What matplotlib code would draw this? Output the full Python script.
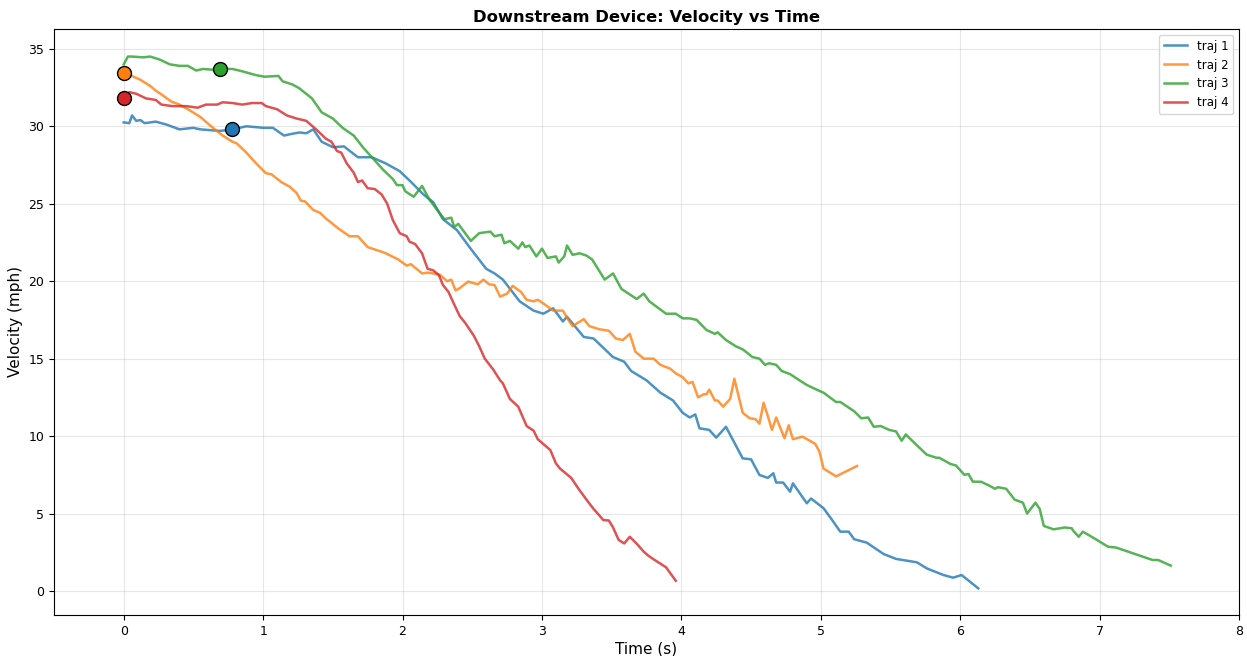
import matplotlib
matplotlib.use("Agg")
import matplotlib.pyplot as plt

# trajectory samples (time in s, velocity in mph)
traj1_t = [0.00, 0.04, 0.06, 0.09, 0.12, 0.15, 0.23, 0.31, 0.40, 0.50, 0.55, 0.69, 0.78, 0.88,
           1.00, 1.07, 1.15, 1.20, 1.26, 1.31, 1.36, 1.42, 1.50, 1.58, 1.68, 1.78, 1.88, 1.98,
           2.05, 2.15, 2.22, 2.29, 2.39, 2.48, 2.60, 2.66, 2.72, 2.84, 2.94, 3.01, 3.08, 3.15,
           3.18, 3.30, 3.37, 3.51, 3.59, 3.64, 3.75, 3.85, 3.94, 4.01, 4.06, 4.10, 4.13, 4.20,
           4.25, 4.32, 4.37, 4.44, 4.50, 4.56, 4.62, 4.66, 4.68, 4.73, 4.78, 4.80, 4.90, 4.93,
           5.02, 5.08, 5.14, 5.20, 5.24, 5.33, 5.45, 5.54, 5.69, 5.76, 5.88, 5.95, 6.01, 6.13]
traj1_v = [30.25, 30.2, 30.7, 30.35, 30.4, 30.2, 30.3, 30.1, 29.8, 29.9, 29.8, 29.7, 29.8, 30.0,
           29.9, 29.9, 29.4, 29.5, 29.6, 29.55, 29.8, 29.0, 28.65, 28.7, 28.0, 28.0, 27.6, 27.1,
           26.5, 25.6, 25.1, 24.0, 23.3, 22.2, 20.8, 20.5, 20.1, 18.7, 18.1, 17.9, 18.25, 17.4,
           17.7, 16.4, 16.3, 15.1, 14.8, 14.2, 13.6, 12.8, 12.3, 11.5, 11.2, 11.4, 10.5, 10.4,
           9.9, 10.6, 9.75, 8.56, 8.5, 7.49, 7.3, 7.6, 7.0, 7.0, 6.41, 6.95, 5.66, 5.97,
           5.34, 4.6, 3.83, 3.83, 3.34, 3.12, 2.39, 2.07, 1.85, 1.46, 1.03, 0.86, 1.03, 0.17]

traj2_t = [0.00, 0.07, 0.12, 0.19, 0.23, 0.28, 0.34, 0.40, 0.47, 0.55, 0.64, 0.71, 0.78, 0.81,
           0.88, 0.95, 1.02, 1.06, 1.13, 1.19, 1.24, 1.27, 1.30, 1.36, 1.41, 1.45, 1.54, 1.62,
           1.68, 1.75, 1.85, 1.88, 1.97, 2.03, 2.06, 2.14, 2.18, 2.22, 2.27, 2.32, 2.35, 2.38,
           2.41, 2.47, 2.54, 2.58, 2.62, 2.66, 2.70, 2.75, 2.79, 2.85, 2.89, 2.94, 2.97, 3.02,
           3.08, 3.15, 3.19, 3.22, 3.30, 3.34, 3.41, 3.48, 3.53, 3.58, 3.63, 3.67, 3.73, 3.80,
           3.85, 3.92, 3.96, 4.01, 4.05, 4.08, 4.12, 4.16, 4.18, 4.20, 4.24, 4.26, 4.30, 4.35,
           4.38, 4.44, 4.49, 4.53, 4.56, 4.59, 4.62, 4.65, 4.68, 4.74, 4.77, 4.80, 4.87, 4.96,
           4.99, 5.02, 5.11, 5.26]
traj2_v = [33.45, 33.2, 33.0, 32.6, 32.3, 32.0, 31.6, 31.4, 31.05, 30.6, 29.9, 29.4, 29.0, 28.9,
           28.3, 27.6, 26.97, 26.9, 26.4, 26.1, 25.7, 25.2, 25.15, 24.6, 24.4, 24.05, 23.4, 22.9,
           22.9, 22.2, 21.9, 21.8, 21.4, 21.0, 21.1, 20.5, 20.55, 20.5, 20.4, 20.0, 20.1, 19.4,
           19.55, 19.97, 19.8, 20.1, 19.8, 19.75, 19.0, 19.2, 19.7, 19.3, 18.8, 18.7, 18.8, 18.5,
           18.1, 18.1, 17.5, 17.1, 17.55, 17.1, 16.9, 16.8, 16.3, 16.2, 16.6, 15.45, 15.0, 15.0,
           14.6, 14.35, 14.05, 13.8, 13.4, 13.5, 12.5, 12.7, 12.7, 13.0, 12.3, 12.3, 11.9, 12.4,
           13.7, 11.5, 11.15, 11.1, 10.8, 12.15, 11.3, 10.4, 11.2, 9.86, 10.7, 9.8, 9.96, 9.5,
           9.0, 7.9, 7.4, 8.07]

traj3_t = [0.00, 0.03, 0.06, 0.14, 0.19, 0.26, 0.33, 0.40, 0.46, 0.52, 0.57, 0.64, 0.69, 0.78,
           0.85, 0.95, 1.01, 1.11, 1.14, 1.21, 1.26, 1.35, 1.42, 1.50, 1.57, 1.65, 1.72, 1.79,
           1.86, 1.93, 1.96, 2.00, 2.02, 2.08, 2.14, 2.19, 2.24, 2.30, 2.35, 2.37, 2.40, 2.49,
           2.55, 2.63, 2.66, 2.71, 2.73, 2.77, 2.83, 2.86, 2.88, 2.91, 2.96, 3.00, 3.04, 3.10,
           3.12, 3.16, 3.18, 3.22, 3.27, 3.32, 3.36, 3.45, 3.51, 3.57, 3.68, 3.73, 3.77, 3.89,
           3.96, 4.01, 4.06, 4.11, 4.18, 4.24, 4.26, 4.32, 4.39, 4.44, 4.51, 4.56, 4.60, 4.63,
           4.68, 4.72, 4.78, 4.83, 4.90, 4.97, 5.02, 5.11, 5.14, 5.24, 5.29, 5.34, 5.38, 5.43,
           5.49, 5.54, 5.58, 5.61, 5.69, 5.76, 5.83, 5.85, 5.93, 5.97, 6.03, 6.06, 6.09, 6.15,
           6.20, 6.25, 6.27, 6.33, 6.39, 6.45, 6.48, 6.54, 6.57, 6.60, 6.67, 6.75, 6.80, 6.81,
           6.85, 6.88, 6.98, 7.06, 7.12, 7.24, 7.38, 7.42, 7.51]
traj3_v = [34.0, 34.5, 34.5, 34.45, 34.5, 34.3, 34.0, 33.9, 33.9, 33.6, 33.7, 33.65, 33.7, 33.7,
           33.55, 33.3, 33.2, 33.25, 32.9, 32.7, 32.45, 31.8, 30.9, 30.5, 29.9, 29.4, 28.6, 27.9,
           27.2, 26.6, 26.2, 26.2, 25.8, 25.45, 26.15, 25.3, 24.7, 24.0, 24.1, 23.5, 23.7, 22.6,
           23.1, 23.2, 22.9, 23.0, 22.45, 22.6, 22.1, 22.5, 22.2, 22.3, 21.6, 22.1, 21.5, 21.6,
           21.2, 21.6, 22.3, 21.7, 21.8, 21.65, 21.4, 20.1, 20.5, 19.5, 18.85, 19.2, 18.7, 17.9,
           17.9, 17.6, 17.6, 17.5, 16.85, 16.6, 16.7, 16.2, 15.8, 15.6, 15.1, 15.0, 14.6, 14.7,
           14.6, 14.2, 14.0, 13.7, 13.3, 13.0, 12.8, 12.2, 12.2, 11.6, 11.15, 11.2, 10.6, 10.65,
           10.4, 10.3, 9.7, 10.1, 9.4, 8.8, 8.6, 8.6, 8.2, 8.1, 7.5, 7.55, 7.06, 7.05,
           6.84, 6.6, 6.7, 6.6, 5.9, 5.7, 5.0, 5.7, 5.3, 4.2, 3.98, 4.1, 4.05, 3.9,
           3.5, 3.83, 3.3, 2.86, 2.8, 2.43, 2.0, 2.0, 1.64]

traj4_t = [0.00, 0.04, 0.09, 0.16, 0.23, 0.27, 0.35, 0.45, 0.53, 0.59, 0.67, 0.71, 0.78, 0.85,
           0.92, 0.99, 1.02, 1.10, 1.17, 1.24, 1.31, 1.38, 1.45, 1.49, 1.53, 1.56, 1.60, 1.65,
           1.68, 1.71, 1.75, 1.80, 1.85, 1.89, 1.93, 1.98, 2.03, 2.05, 2.09, 2.14, 2.18, 2.22,
           2.26, 2.29, 2.33, 2.36, 2.41, 2.45, 2.51, 2.55, 2.59, 2.65, 2.70, 2.72, 2.77, 2.83,
           2.89, 2.94, 2.97, 3.06, 3.10, 3.13, 3.21, 3.27, 3.33, 3.37, 3.40, 3.44, 3.48, 3.51,
           3.55, 3.59, 3.63, 3.68, 3.73, 3.76, 3.80, 3.89, 3.96]
traj4_v = [31.8, 32.2, 32.1, 31.8, 31.7, 31.4, 31.3, 31.3, 31.2, 31.4, 31.4, 31.55, 31.5, 31.4,
           31.5, 31.5, 31.3, 31.1, 30.7, 30.5, 30.35, 29.8, 29.2, 29.0, 28.4, 28.3, 27.6, 27.0,
           26.4, 26.5, 26.0, 25.95, 25.6, 25.0, 23.95, 23.1, 22.9, 22.55, 22.4, 21.8, 20.8, 20.7,
           20.4, 19.75, 19.3, 18.7, 17.75, 17.3, 16.5, 15.8, 15.0, 14.3, 13.6, 13.4, 12.4, 11.9,
           10.65, 10.35, 9.8, 9.1, 8.24, 7.9, 7.3, 6.5, 5.77, 5.3, 5.0, 4.58, 4.55, 4.1,
           3.3, 3.07, 3.5, 3.05, 2.54, 2.3, 2.05, 1.53, 0.66]

# highlighted points on each trajectory
marker_t = [0.78, 0.00, 0.69, 0.00]
marker_v = [29.8, 33.45, 33.7, 31.8]

labels = ["traj 1", "traj 2", "traj 3", "traj 4"]
colors = ["#1f77b4", "#ff7f0e", "#2ca02c", "#d62728"]

series = [(traj1_t, traj1_v), (traj2_t, traj2_v), (traj3_t, traj3_v), (traj4_t, traj4_v)]

fig = plt.figure(figsize=(12.47, 6.56), dpi=100)
ax = fig.add_axes([0.0433, 0.0625, 0.9503, 0.8933])

for (t, v), lab, c in zip(series, labels, colors):
    ax.plot(t, v, color=c, linewidth=1.8, alpha=0.8, label=lab)

for mt, mv, c in zip(marker_t, marker_v, colors):
    ax.scatter([mt], [mv], s=100, color=c, edgecolors="black", linewidths=1.0, zorder=5)

ax.set_xlim(-0.5, 8)
ax.set_ylim(-1.55, 36.28)
ax.set_xticks(range(0, 9))
ax.set_yticks(range(0, 36, 5))
ax.tick_params(labelsize=9)

ax.set_xlabel("Time (s)", fontsize=11, labelpad=3)
ax.set_ylabel("Velocity (mph)", fontsize=11, labelpad=4)
ax.set_title("Downstream Device: Velocity vs Time", fontsize=11.8, fontweight="bold", pad=5)
ax.grid(True, alpha=0.3)
ax.legend(loc="upper right", fontsize=8.5)

fig.savefig("out.png", dpi=100, facecolor="white")
